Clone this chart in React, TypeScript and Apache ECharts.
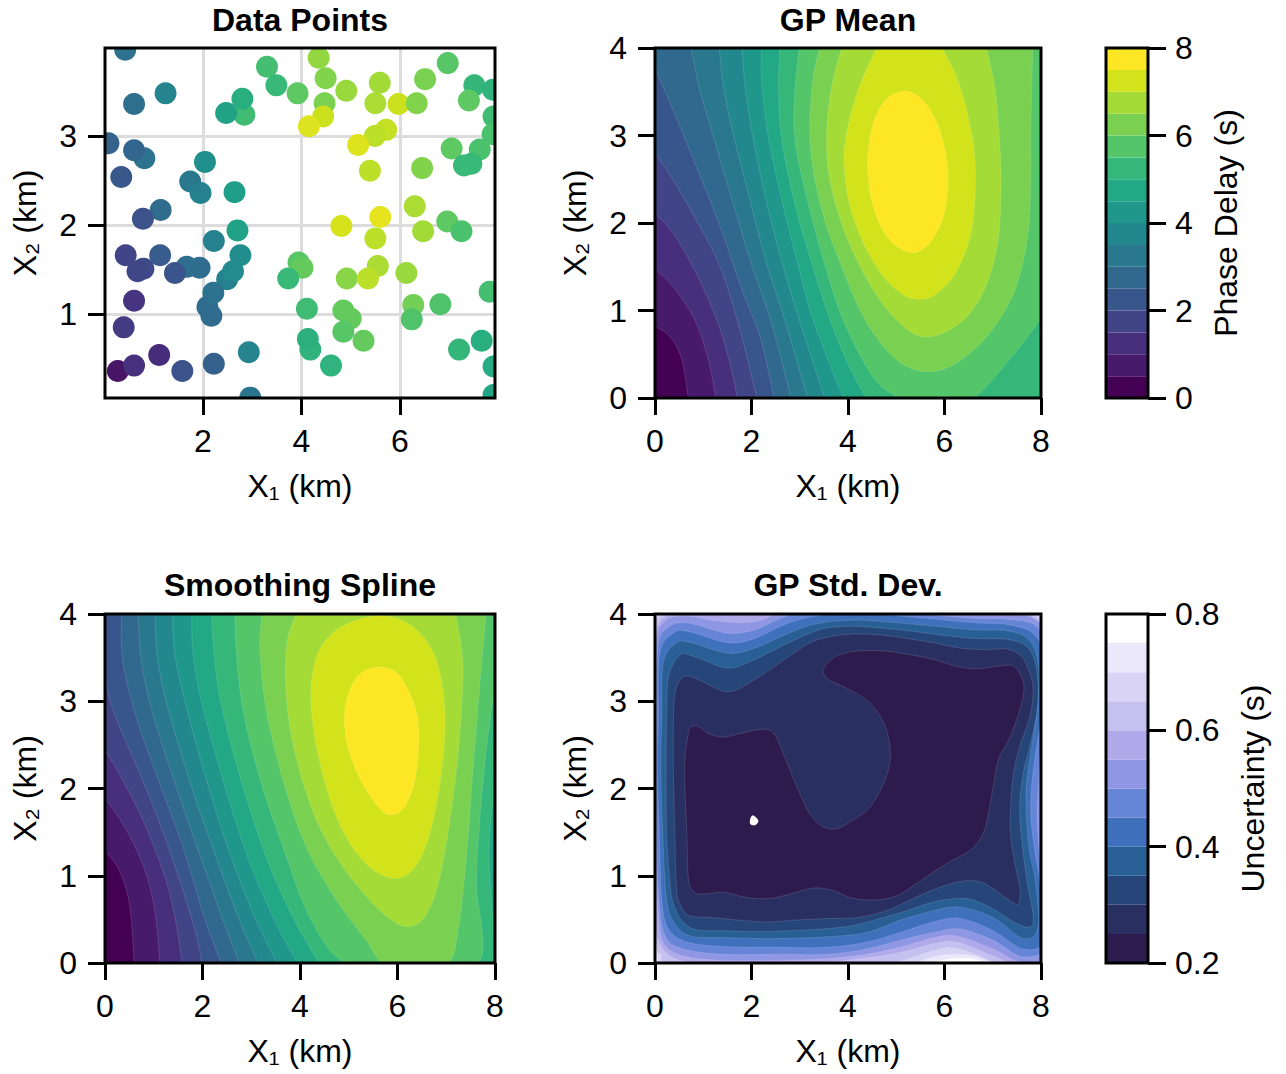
import React, { useEffect, useRef } from "react";
import * as echarts from "echarts";

type Pt = number[];

const viridisBands = ["#440154","#481a6c","#472f7d","#414487","#39568c","#31688e","#2a788e","#23888e","#1f988b","#22a884","#35b779","#54c568","#7ad151","#a5db36","#d2e21b","#fde725"];
const uncertaintyBands = ["#2d1b4e","#2a2f61","#264679","#286096","#3f70bb","#6785d6","#8f96e3","#b0a9ea","#c5c0f0","#d9d4f5","#ebe8fb","#ffffff"];

const pointX = [0.42,1.24,0.60,3.30,3.49,3.92,4.35,4.49,4.47,4.91,5.59,5.50,5.97,6.34,6.51,6.97,7.51,7.40,7.89,7.90,7.88,2.84,2.80,2.47,4.44,4.15,5.72,5.49,5.15,5.39,6.45,7.05,7.62,7.30,7.45,0.08,0.81,0.60,2.04,0.34,1.74,1.95,2.64,1.14,0.78,2.70,2.22,0.43,1.13,2.76,1.93,1.67,0.79,0.67,1.43,2.49,2.61,3.94,4.02,3.73,4.92,5.55,5.35,6.13,6.47,6.30,6.96,7.25,4.81,5.60,5.50,0.60,2.17,2.09,2.21,4.11,5.00,4.85,6.27,6.24,6.82,7.82,0.39,4.18,4.13,5.26,4.85,1.11,0.27,0.60,1.58,2.22,2.93,4.60,7.20,7.66,7.90,2.96,7.90];
const pointY = [3.97,3.48,3.36,3.78,3.57,3.48,3.88,3.65,3.37,3.51,3.60,3.37,3.36,3.37,3.64,3.82,3.57,3.40,3.52,3.22,3.02,3.24,3.42,3.26,3.22,3.11,3.07,3.00,2.90,2.61,2.64,2.86,2.85,2.67,2.69,2.92,2.75,2.84,2.71,2.54,2.49,2.36,2.37,2.17,2.07,1.94,1.82,1.66,1.66,1.66,1.52,1.53,1.51,1.48,1.46,1.39,1.48,1.58,1.52,1.40,1.40,1.54,1.40,1.46,1.93,2.21,2.04,1.93,1.99,2.09,1.85,1.15,0.98,1.08,1.24,1.06,0.95,1.04,1.10,0.94,1.11,1.25,0.85,0.60,0.72,0.70,0.80,0.54,0.36,0.42,0.36,0.44,0.57,0.42,0.60,0.70,0.41,0.06,0.09];
const pointZ = [3.0,3.6,2.9,5.6,5.4,6.0,6.7,6.5,6.4,6.8,6.9,7.0,7.4,6.5,6.4,5.9,5.3,6.0,5.2,5.5,5.7,5.5,5.0,4.6,7.4,7.6,7.3,7.2,7.6,7.2,6.5,6.0,5.7,5.4,5.4,2.5,3.0,2.6,4.0,2.2,3.2,3.5,4.5,2.8,2.0,4.6,3.5,1.6,2.3,3.9,2.8,2.9,1.8,1.7,2.1,3.5,3.8,5.9,6.1,5.4,6.6,7.0,7.2,6.8,6.9,7.0,6.0,5.7,7.5,7.7,7.2,1.2,2.8,2.8,3.0,5.5,6.1,6.1,6.3,5.8,5.8,5.6,1.4,5.2,5.1,6.1,5.9,1.0,0.4,1.1,2.0,2.5,3.6,5.2,5.3,5.0,4.9,3.1,4.7];

const meanLevels: Pt[][] = [
  [[0,.82],[.31,.70],[.55,.45],[.69,0]],
  [[0,1.48],[.38,1.27],[.83,.89],[1.11,.43],[1.26,0]],
  [[0,2.11],[.38,1.88],[.86,1.42],[1.31,.85],[1.55,.40],[1.71,0]],
  [[0,2.80],[.38,2.49],[.86,2.03],[1.35,1.50],[1.76,.78],[2.11,0]],
  [[0,3.77],[.38,3.29],[.86,2.64],[1.35,1.96],[1.83,1.20],[2.18,.70],[2.47,0]],
  [[.75,4],[.93,3.52],[1.21,2.99],[1.62,2.22],[2.04,1.46],[2.40,.89],[2.82,0]],
  [[1.33,4],[1.42,3.56],[1.62,3.02],[1.97,2.26],[2.31,1.54],[2.69,.89],[3.16,0]],
  [[1.80,4],[1.87,3.56],[2.04,2.95],[2.35,2.15],[2.66,1.50],[2.99,.89],[3.52,0]],
  [[2.21,4],[2.21,3.63],[2.35,2.99],[2.66,2.19],[2.94,1.58],[3.28,.89],[3.90,0]],
  [[2.59,4],[2.56,3.56],[2.63,2.95],[2.90,2.22],[3.25,1.54],[3.63,.89],[3.97,.43],[4.37,0]],
  [[2.99,4],[2.89,3.44],[2.90,2.95],[3.14,2.30],[3.49,1.58],[3.90,.89],[4.52,.24],[5.06,0],[5.77,-.2],[6.60,0],[7.29,.40],[7.98,.89],[8.4,1.2]],
  [[3.41,4],[3.27,3.63],[3.21,3.10],[3.28,2.61],[3.52,2.03],[3.90,1.46],[4.32,.93],[4.80,.55],[5.22,.36],[5.70,.30],[6.18,.38],[6.74,.62],[7.22,.97],[7.53,1.35],[7.74,1.92],[7.79,2.57],[7.79,3.06],[7.83,4]],
  [[3.87,4],[3.66,3.56],[3.56,3.06],[3.59,2.61],[3.80,2.11],[4.18,1.58],[4.66,1.12],[5.15,.82],[5.56,.70],[6.04,.76],[6.53,.97],[6.91,1.35],[7.12,1.84],[7.17,2.38],[7.15,2.87],[7.05,3.52],[6.87,4]],
  [[4.59,4],[4.21,3.52],[3.97,3.02],[3.92,2.68],[4.03,2.22],[4.32,1.77],[4.73,1.39],[5.15,1.18],[5.46,1.13],[5.80,1.18],[6.22,1.42],[6.53,1.84],[6.63,2.30],[6.62,2.80],[6.46,3.29],[6.22,3.71],[5.94,4]],
  [[5.18,3.51],[5.58,3.39],[5.91,3.05],[6.07,2.59],[6.00,2.12],[5.72,1.79],[5.35,1.66],[4.89,1.79],[4.56,2.12],[4.41,2.59],[4.48,3.05],[4.75,3.39]],
];

const splineLevels: Pt[][] = [
  [[0,1.29],[.29,1.06],[.50,.68],[.60,0]],
  [[0,1.88],[.36,1.60],[.77,1.14],[1.01,.64],[1.13,0]],
  [[0,2.44],[.36,2.10],[.84,1.56],[1.25,.95],[1.46,.45],[1.58,0]],
  [[0,3.25],[.19,2.86],[.57,2.36],[1.05,1.71],[1.53,.95],[1.87,.33],[1.99,0]],
  [[.34,4],[.36,3.48],[.64,2.82],[1.12,2.06],[1.60,1.33],[2.04,.52],[2.38,0]],
  [[.68,4],[.74,3.48],[.98,2.86],[1.46,2.02],[1.94,1.25],[2.42,.49],[2.76,0]],
  [[1.03,4],[1.08,3.48],[1.32,2.86],[1.80,1.98],[2.28,1.21],[2.76,.49],[3.14,0]],
  [[1.39,4],[1.42,3.59],[1.63,3.02],[2.08,2.10],[2.59,1.21],[3.10,.49],[3.53,0]],
  [[1.78,4],[1.80,3.59],[1.97,3.02],[2.42,2.10],[2.93,1.21],[3.48,.49],[3.95,0]],
  [[2.19,4],[2.23,3.59],[2.38,2.98],[2.79,2.10],[3.31,1.21],[3.86,.52],[4.39,0]],
  [[2.66,4],[2.69,3.59],[2.83,2.90],[3.17,2.13],[3.65,1.33],[4.23,.49],[4.92,0],[6.18,-.16],[7.66,0],[7.62,.91],[7.69,1.67],[7.86,2.63],[8,3.09],[8.24,3.40]],
  [[3.22,4],[3.18,3.59],[3.31,2.90],[3.65,2.10],[4.13,1.33],[4.75,.72],[5.36,.26],[5.69,0],[6.39,-.16],[7.05,0],[7.25,.41],[7.42,1.25],[7.55,2.25],[7.69,3.21],[7.81,4]],
  [[3.92,4],[3.75,3.72],[3.70,3.28],[3.79,2.71],[4.03,2.13],[4.40,1.56],[4.88,1.10],[5.43,.72],[5.84,.51],[6.15,.42],[6.46,.47],[6.73,.72],[6.94,1.18],[7.14,1.90],[7.28,2.63],[7.34,3.21],[7.32,3.59],[7.19,4]],
  [[5.64,3.98],[5.16,3.93],[4.71,3.80],[4.40,3.59],[4.25,3.28],[4.23,2.94],[4.34,2.48],[4.58,1.94],[4.95,1.44],[5.43,1.10],[5.95,.97],[6.36,1.10],[6.66,1.48],[6.87,2.06],[6.97,2.63],[6.94,3.09],[6.77,3.51],[6.46,3.78],[6.08,3.93]],
  [[5.65,3.39],[5.29,3.34],[5.05,3.17],[4.92,2.90],[4.94,2.59],[5.09,2.29],[5.36,1.98],[5.64,1.77],[5.81,1.70],[6.05,1.73],[6.25,1.90],[6.38,2.17],[6.44,2.56],[6.39,2.87],[6.22,3.13],[5.98,3.33]],
];
const splineRightPatch: Pt[] = [[8,1.87],[7.88,1.41],[7.90,.91],[8,.49],[8.2,1.2]];

// Outermost to innermost: region whose uncertainty lies below each band's upper edge.
const stdLevels: Pt[][] = [
  [[-.08,2.63],[.01,3.93],[.08,3.99],[.38,4.16],[5.22,4.28],[7.98,4.05],[8.46,3.78],[8.46,-.16],[7.4,-.12],[7.0,-.02],[6.65,.04],[6.25,.055],[5.85,.02],[5.55,-.03],[5.08,-.09],[2.45,-.16],[.21,-.02],[.02,.07],[-.08,1.48]],
  [[-.06,2.63],[-.01,3.90],[.10,4.01],[.38,4.13],[5.22,4.24],[7.91,4.05],[8.39,3.78],[8.39,-.13],[7.5,-.08],[7.1,-.02],[6.7,.07],[6.25,.10],[5.77,.07],[5.2,-.03],[4.52,-.09],[2.45,-.13],[.24,-.05],[.05,.10],[-.03,1.48]],
  [[-.03,2.63],[.01,3.84],[.07,3.95],[.17,4.01],[.38,4.09],[2.45,4.16],[5.22,4.20],[7.63,4.09],[7.84,4.00],[8.01,3.90],[8.39,3.40],[8.39,-.09],[7.29,-.09],[7.01,.01],[6.25,.17],[5.77,.14],[5.15,.03],[4.52,-.03],[2.45,-.09],[.38,-.02],[.12,.10],[.02,.26],[-.05,1.48]],
  [[-.03,2.63],[.01,3.70],[.09,3.90],[.28,4.00],[.52,4.05],[1.76,4.09],[2.45,4.13],[5.22,4.16],[6.60,4.09],[7.63,4.02],[8.01,3.84],[8.32,3.40],[8.32,-.05],[7.63,-.05],[7.01,.08],[6.25,.24],[5.77,.22],[5.08,.12],[4.39,.06],[3.56,.01],[2.45,-.02],[1.42,-.01],[.52,.03],[.12,.20],[.01,.52],[-.03,1.48]],
  [[-.03,2.63],[.02,3.67],[.17,3.90],[.41,3.97],[.79,3.97],[1.17,3.93],[1.73,3.90],[2.21,3.93],[2.59,4.03],[3.14,4.13],[4.11,4.16],[5.22,4.11],[6.60,4.02],[7.29,4.00],[7.94,3.92],[8.26,3.51],[8.26,1.87],[8.26,.18],[7.63,.01],[7.01,.16],[6.25,.31],[5.77,.29],[5.08,.18],[4.39,.10],[3.56,.05],[2.45,.03],[1.42,.03],[.59,.08],[.16,.25],[.05,.72],[-.01,1.48]],
  [[.03,2.79],[.06,3.63],[.28,3.85],[.55,3.90],[.83,3.88],[1.52,3.78],[2.07,3.82],[2.69,3.97],[3.28,4.05],[4.11,4.09],[5.22,4.02],[6.60,3.95],[7.29,3.94],[7.91,3.86],[8.15,3.51],[8.15,3.02],[8.01,2.48],[7.95,2.06],[7.92,1.67],[7.97,1.25],[8.06,.91],[8.15,.22],[7.63,.07],[7.01,.26],[6.32,.39],[5.77,.35],[5.08,.26],[4.39,.16],[3.56,.10],[2.45,.10],[1.42,.10],[.59,.16],[.21,.31],[.08,.72],[.03,1.48],[.02,2.25]],
  [[.07,2.79],[.10,3.55],[.38,3.78],[.69,3.80],[1.52,3.67],[2.07,3.72],[2.69,3.88],[3.28,3.97],[4.11,4.02],[5.22,3.97],[6.60,3.90],[7.29,3.88],[7.84,3.78],[8.05,3.51],[8.06,3.02],[7.91,2.48],[7.81,2.06],[7.79,1.67],[7.88,1.25],[7.98,.91],[8.05,.26],[7.63,.16],[7.01,.37],[6.32,.51],[5.77,.47],[5.08,.35],[4.39,.24],[3.56,.18],[2.45,.18],[1.42,.19],[.66,.24],[.28,.39],[.14,.72],[.09,1.48],[.05,2.25]],
  [[.14,2.79],[.17,3.44],[.45,3.67],[.76,3.67],[1.52,3.55],[2.07,3.61],[2.69,3.76],[3.28,3.88],[4.11,3.93],[5.22,3.89],[6.60,3.82],[7.29,3.81],[7.74,3.71],[7.94,3.44],[7.94,3.02],[7.81,2.48],[7.70,2.06],[7.70,1.67],[7.77,1.25],[7.88,.95],[7.94,.41],[7.63,.28],[7.01,.52],[6.32,.64],[5.77,.60],[5.08,.49],[4.39,.35],[3.56,.30],[2.45,.28],[1.42,.29],[.73,.31],[.41,.45],[.24,.72],[.16,1.48],[.12,2.25]],
  [[.24,2.79],[.28,3.28],[.52,3.53],[.83,3.51],[1.52,3.38],[2.07,3.48],[2.69,3.65],[3.21,3.78],[3.56,3.84],[4.11,3.86],[4.66,3.84],[5.22,3.81],[5.91,3.76],[6.60,3.72],[7.29,3.71],[7.70,3.63],[7.88,3.44],[7.94,3.17],[7.91,2.86],[7.77,2.48],[7.63,2.17],[7.56,1.79],[7.60,1.41],[7.70,.98],[7.84,.52],[7.74,.41],[7.43,.47],[7.01,.62],[6.60,.72],[6.25,.74],[5.77,.70],[5.22,.60],[4.66,.51],[4.11,.43],[3.49,.39],[2.80,.37],[2.11,.36],[1.42,.37],[.86,.38],[.55,.49],[.38,.68],[.31,.91],[.24,1.48],[.23,2.25]],
  [[.40,3.02],[.48,3.21],[.66,3.29],[.97,3.23],[1.52,3.11],[2.07,3.25],[2.69,3.48],[3.21,3.67],[3.63,3.74],[4.11,3.77],[4.66,3.76],[5.22,3.72],[5.77,3.67],[6.32,3.61],[6.87,3.59],[7.29,3.60],[7.60,3.51],[7.77,3.32],[7.84,3.13],[7.77,2.82],[7.56,2.48],[7.43,2.17],[7.37,1.79],[7.37,1.48],[7.46,1.14],[7.56,.87],[7.56,.72],[7.50,.67],[7.29,.74],[7.01,.85],[6.74,.93],[6.39,.94],[5.91,.87],[5.35,.74],[4.80,.60],[4.18,.52],[3.56,.51],[2.87,.49],[2.31,.47],[1.76,.49],[1.21,.52],[.73,.54],[.55,.64],[.45,.83],[.41,1.48],[.38,2.25],[.38,2.71]],
  [[.76,2.71],[.90,2.71],[1.11,2.63],[1.42,2.59],[1.76,2.63],[2.28,2.68],[2.49,2.61],[2.66,2.40],[2.94,2.02],[3.21,1.71],[3.49,1.56],[3.77,1.54],[4.11,1.64],[4.46,1.79],[4.77,2.10],[4.88,2.40],[4.77,2.71],[4.46,2.98],[4.04,3.13],[3.63,3.24],[3.51,3.30],[3.50,3.38],[3.73,3.51],[4.11,3.57],[4.66,3.58],[5.22,3.54],[5.77,3.48],[6.25,3.40],[6.67,3.37],[7.08,3.40],[7.39,3.41],[7.56,3.32],[7.65,3.15],[7.56,2.90],[7.36,2.59],[7.12,2.33],[7.01,2.02],[6.91,1.71],[6.80,1.48],[6.53,1.29],[6.04,1.14],[5.42,.91],[5.01,.77],[4.52,.72],[4.04,.75],[3.70,.83],[3.28,.86],[2.80,.79],[2.38,.74],[1.90,.75],[1.42,.81],[1.00,.79],[.79,.82],[.69,.98],[.66,1.48],[.62,2.02],[.62,2.33],[.69,2.63]],
];
const stdWhiteSpot: Pt[] = [[1.97,1.64],[2.02,1.69],[2.11,1.66],[2.14,1.62],[2.07,1.58],[1.98,1.59]];

const outside: Pt[] = [[-1,-1],[9,-1],[9,5],[-1,5]];
const rightClose: Pt[] = [[9,-1],[9,5]];
const leftClose: Pt[] = [[9,-1],[9,5],[-1,5]];

type Shape = { color: string; pts: Pt[]; close?: Pt[]; loop?: boolean };

function viridisShapes(levels: Pt[][]): Shape[] {
  const out: Shape[] = [{ color: viridisBands[0], pts: [], close: outside }];
  levels.forEach((pts, i) => {
    const last = pts[pts.length - 1];
    const first = pts[0];
    const s: Shape = { color: viridisBands[i + 1], pts };
    if (first[0] === 0) s.close = leftClose;
    else if (last[1] === 0) s.close = rightClose;
    else if (last[0] > 8) s.close = [[9, 5]];
    else if (first[1] !== 4 || last[1] !== 4) s.loop = true;
    out.push(s);
  });
  return out;
}

const meanShapes = viridisShapes(meanLevels);
const splineShapes = viridisShapes(splineLevels);
splineShapes.push({ color: viridisBands[9], pts: splineRightPatch, loop: true });
const stdShapes: Shape[] = [
  { color: uncertaintyBands[11], pts: [], close: outside },
  ...stdLevels.map((pts, i) => ({ color: uncertaintyBands[10 - i], pts, loop: true })),
  { color: "#ffffff", pts: stdWhiteSpot, loop: true },
];

function smoothPath(shape: Shape, coord: (p: Pt) => number[]): string {
  const p = shape.pts.map(coord);
  const n = p.length;
  let d = "";
  if (n) {
    d = `M${p[0][0]} ${p[0][1]}`;
    const at = (i: number) => (shape.loop ? p[(i + n) % n] : p[Math.max(0, Math.min(n - 1, i))]);
    const segs = shape.loop ? n : n - 1;
    for (let i = 0; i < segs; i++) {
      const a = at(i - 1), b = at(i), c = at(i + 1), e = at(i + 2);
      const c1 = [b[0] + (c[0] - a[0]) / 6, b[1] + (c[1] - a[1]) / 6];
      const c2 = [c[0] - (e[0] - b[0]) / 6, c[1] - (e[1] - b[1]) / 6];
      d += `C${c1[0]} ${c1[1]} ${c2[0]} ${c2[1]} ${c[0]} ${c[1]}`;
    }
  }
  (shape.close || []).map(coord).forEach((q, i) => {
    d += `${!n && i === 0 ? "M" : "L"}${q[0]} ${q[1]}`;
  });
  return d + "Z";
}

const font = "Liberation Sans";
const black = "#000000";
const fontSize = 32;

function contourSeries(shapes: Shape[], axis: number) {
  return {
    type: "custom",
    xAxisIndex: axis,
    yAxisIndex: axis,
    clip: true,
    silent: true,
    z: 2,
    data: shapes.map((_, i) => [i]),
    renderItem: (params: any, api: any) => {
      const s = shapes[params.dataIndex];
      return {
        type: "path",
        shape: { pathData: smoothPath(s, (p) => api.coord(p)) },
        style: { fill: s.color, stroke: "rgba(255,255,255,0.22)", lineWidth: 0.6 },
      };
    },
  };
}

function frameSeries(axis: number, xr: number[], yr: number[]) {
  return {
    type: "custom",
    xAxisIndex: axis,
    yAxisIndex: axis,
    clip: false,
    silent: true,
    z: 10,
    data: [[xr[0], yr[0]]],
    renderItem: (_: any, api: any) => {
      const a = api.coord([xr[0], yr[1]]);
      const b = api.coord([xr[1], yr[0]]);
      return {
        type: "rect",
        shape: { x: a[0], y: a[1], width: b[0] - a[0], height: b[1] - a[1] },
        style: { fill: "none", stroke: black, lineWidth: 3 },
      };
    },
  };
}

function bandSeries(colors: string[], lo: number, step: number, axis: number) {
  return {
    type: "custom",
    xAxisIndex: axis,
    yAxisIndex: axis,
    clip: true,
    silent: true,
    z: 2,
    data: colors.map((_, i) => [0, lo + i * step]),
    renderItem: (params: any, api: any) => {
      const i = params.dataIndex;
      const a = api.coord([0, lo + (i + 1) * step]);
      const b = api.coord([1, lo + i * step]);
      return {
        type: "rect",
        shape: { x: a[0], y: a[1], width: b[0] - a[0], height: b[1] - a[1] },
        style: { fill: colors[i] },
      };
    },
  };
}

const tickStyle = (length: number) => ({ show: true, length, inside: false, lineStyle: { color: black, width: 3 } });
const labelStyle = (margin: number) => ({ color: black, fontSize, fontFamily: font, margin, showMinLabel: true, showMaxLabel: true });
const nameStyle = { color: black, fontSize, fontFamily: font };

function xAxis(grid: number, min: number, max: number, custom?: number[]) {
  return {
    type: "value", gridIndex: grid, min, max, position: "bottom",
    ...(custom ? {} : { interval: 2 }),
    name: "X\u2081 (km)", nameLocation: "middle", nameGap: 72, nameTextStyle: nameStyle, nameMoveOverlap: false,
    axisLine: { show: false, onZero: false },
    axisTick: { ...tickStyle(17), ...(custom ? { customValues: custom } : {}) },
    axisLabel: { ...labelStyle(27), ...(custom ? { customValues: custom } : {}) },
    splitLine: custom ? { show: true, lineStyle: { color: "#dcdcdc", width: 3 } } : { show: false },
  };
}

function yAxis(grid: number, min: number, max: number, custom?: number[]) {
  return {
    type: "value", gridIndex: grid, min, max, position: "left",
    ...(custom ? {} : { interval: 1 }),
    name: "X\u2082 (km)", nameLocation: "middle", nameGap: 64, nameRotate: 90, nameTextStyle: nameStyle, nameMoveOverlap: false,
    axisLine: { show: false, onZero: false },
    axisTick: { ...tickStyle(17), ...(custom ? { customValues: custom } : {}) },
    axisLabel: { ...labelStyle(28), ...(custom ? { customValues: custom } : {}) },
    splitLine: custom ? { show: true, lineStyle: { color: "#dcdcdc", width: 3 } } : { show: false },
  };
}

function barX(grid: number) {
  return { type: "value", gridIndex: grid, min: 0, max: 1, show: false };
}

function barY(grid: number, min: number, max: number, interval: number, name: string, gap: number, digits: number) {
  return {
    type: "value", gridIndex: grid, min, max, interval, position: "right",
    name, nameLocation: "middle", nameGap: gap, nameRotate: 90, nameTextStyle: nameStyle, nameMoveOverlap: false,
    axisLine: { show: false, onZero: false },
    axisTick: tickStyle(18),
    axisLabel: { ...labelStyle(27), formatter: (v: number) => v.toFixed(digits) },
    splitLine: { show: false },
  };
}

const titleItem = (text: string, left: number, top: number) => ({
  text, left, top, textAlign: "center", padding: 0,
  textStyle: { color: black, fontSize, fontWeight: "bold", fontFamily: font },
});

export default function App() {
  const ref = useRef<HTMLDivElement>(null);
  useEffect(() => {
    const chart = echarts.init(ref.current!, undefined, { renderer: "svg" });
    const pts = pointX.map((x, i) => [x, pointY[i], pointZ[i]]);
    chart.setOption({
      animation: false,
      backgroundColor: "#ffffff",
      textStyle: { fontFamily: font },
      title: [
        titleItem("Data Points", 300, 4),
        titleItem("GP Mean", 848, 4),
        titleItem("Smoothing Spline", 300, 569),
        titleItem("GP Std. Dev.", 848, 569),
      ],
      grid: [
        { left: 105, top: 48, width: 390, height: 350 },
        { left: 655, top: 48, width: 386, height: 350 },
        { left: 105, top: 614, width: 390, height: 349 },
        { left: 655, top: 614, width: 386, height: 349 },
        { left: 1106, top: 48, width: 42, height: 350 },
        { left: 1106, top: 614, width: 42, height: 349 },
      ],
      xAxis: [xAxis(0, 0.01, 7.93, [2, 4, 6]), xAxis(1, 0, 8), xAxis(2, 0, 8), xAxis(3, 0, 8), barX(4), barX(5)],
      yAxis: [
        yAxis(0, 0.056, 3.99, [1, 2, 3]), yAxis(1, 0, 4), yAxis(2, 0, 4), yAxis(3, 0, 4),
        barY(4, 0, 8, 2, "Phase Delay (s)", 62, 0),
        barY(5, 0.2, 0.8, 0.2, "Uncertainty (s)", 89, 1),
      ],
      visualMap: { show: false, seriesIndex: 0, dimension: 2, min: 0, max: 8, inRange: { color: viridisBands } },
      series: [
        {
          type: "custom",
          xAxisIndex: 0,
          yAxisIndex: 0,
          clip: true,
          silent: true,
          z: 2,
          encode: { x: 0, y: 1 },
          data: pts,
          renderItem: (_: any, api: any) => {
            const c = api.coord([api.value(0), api.value(1)]);
            return { type: "circle", shape: { cx: c[0], cy: c[1], r: 11 }, style: { fill: api.visual("color") } };
          },
        },
        contourSeries(meanShapes, 1),
        contourSeries(splineShapes, 2),
        contourSeries(stdShapes, 3),
        bandSeries(viridisBands, 0, 0.5, 4),
        bandSeries(uncertaintyBands, 0.2, 0.05, 5),
        frameSeries(0, [0.01, 7.93], [0.056, 3.99]),
        frameSeries(1, [0, 8], [0, 4]),
        frameSeries(2, [0, 8], [0, 4]),
        frameSeries(3, [0, 8], [0, 4]),
        frameSeries(4, [0, 1], [0, 8]),
        frameSeries(5, [0, 1], [0.2, 0.8]),
      ],
    });
    return () => chart.dispose();
  }, []);
  return <div ref={ref} style={{ position: "absolute", left: 0, top: 0, width: 1286, height: 1074 }} />;
}
